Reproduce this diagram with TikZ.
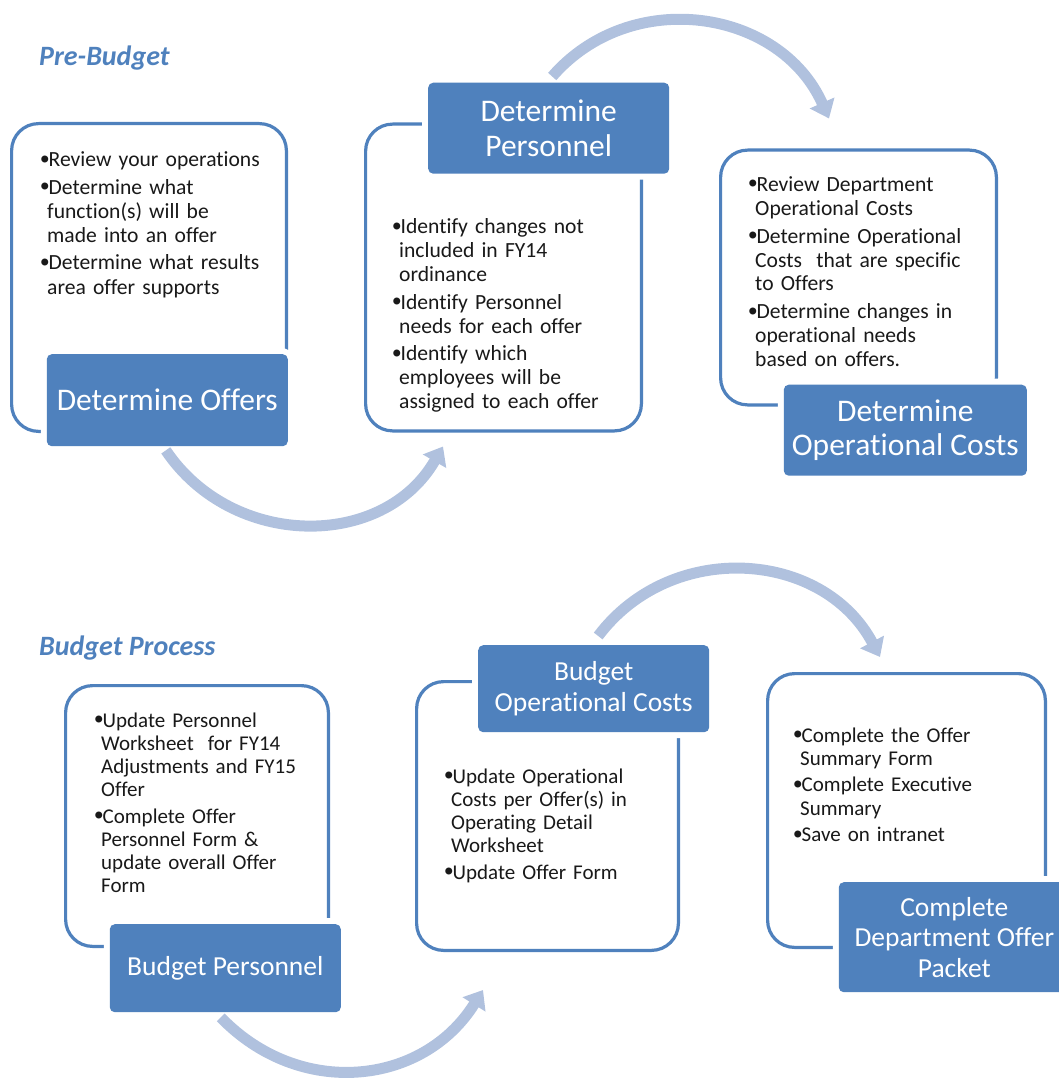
\documentclass[tikz,border=0pt]{standalone}
\usepackage{fontspec}
\setmainfont{Carlito}[Ligatures=NoCommon]
\usetikzlibrary{arrows.meta,positioning}
\definecolor{hdrblue}{RGB}{79,129,189}
\definecolor{arwblue}{RGB}{176,193,222}
\definecolor{txtblack}{RGB}{25,25,25}
\tikzstyle{box} = [draw=hdrblue, line width=3.2pt, rounded corners=27pt, fill=white]
\tikzstyle{hdr} = [fill=hdrblue, text=white, rounded corners=5pt, align=center, preaction={draw=white, line width=12pt}]
\tikzstyle{hdrbig} = [hdr, font=\fontsize{31.5}{34.5}\selectfont]
\tikzstyle{hdrsmall} = [hdr, font=\fontsize{27.5}{30.5}\selectfont]
\tikzstyle{txt} = [anchor=base west, inner sep=0pt, text width=270pt, align=left, text=txtblack, font=\fontsize{21.6}{24}\selectfont]
\tikzstyle{txtlow} = [txt, font=\fontsize{21}{23.2}\selectfont]
\tikzstyle{ttl} = [anchor=base west, inner sep=0pt, text=hdrblue, font=\fontsize{28}{32}\selectfont\bfseries\itshape]
\tikzstyle{flow} = [draw=arwblue, line width=11pt, -{Triangle[width=26pt,length=17pt]}]
\newcommand{\bul}[1]{\hangindent=6pt\hangafter=1\noindent\makebox[7.5pt][l]{\setlength{\unitlength}{1pt}\begin{picture}(0,0)\put(3.6,7.5){\circle*{6.5}}\end{picture}}#1\par\vskip3.5pt}

\begin{document}
\begin{tikzpicture}[x=1pt,y=1pt]
\useasboundingbox (0,0) rectangle (1058,-1078);

\node[box, minimum width=274.8pt, minimum height=307.8pt] (offbox) at (149,-277.5) {};
\node[box, minimum width=275.8pt, minimum height=306.8pt, right=76pt of offbox] (perbox) {};
\node[box, minimum width=275.8pt, minimum height=254.8pt, right=76pt of perbox] (opcbox) {};
\node[box, minimum width=262.8pt, minimum height=260.8pt] (bpbox) at (197,-816) {};
\node[box, minimum width=261.8pt, minimum height=268.8pt, right=85pt of bpbox] (bocbox) {};
\node[box, minimum width=277.8pt, minimum height=273.8pt, right=86pt of bocbox, yshift=5.5pt] (pkbox) {};

\node[hdrbig, minimum width=241pt, minimum height=92pt, anchor=north east] (offhd) at ([yshift=79pt]offbox.south east) {Determine Offers};
\node[hdrbig, minimum width=241pt, minimum height=91pt, anchor=north west] (perhd) at ([shift={(64,40)}]perbox.north west) {Determine\\Personnel};
\node[hdrbig, minimum width=243pt, minimum height=91pt, anchor=north east] (opchd) at ([shift={(29,22)}]opcbox.south east) {Determine\\Operational Costs};
\node[hdrsmall, minimum width=231pt, minimum height=88pt, anchor=north east] (bphd) at ([shift={(11,24)}]bpbox.south east) {Budget Personnel};
\node[hdrsmall, minimum width=231pt, minimum height=87pt, anchor=north west] (bochd) at ([shift={(63,35)}]bocbox.north west) {Budget\\Operational Costs};
\node[hdrsmall, minimum width=231pt, minimum height=110pt, anchor=north east] (pkhd) at ([shift={(23,67)}]pkbox.south east) {Complete\\Department Offer\\Packet};

\node[txt] (offtx) at ([shift={(31,-45)}]offbox.north west) {%
\bul{Review your operations}
\bul{Determine what\newline function(s) will be\newline made into an offer}
\bul{Determine what results\newline area offer supports}};
\node[txt] (pertx) at ([shift={(29,-111)}]perbox.north west) {%
\bul{Identify changes not\newline included in FY14\newline ordinance}
\bul{Identify Personnel\newline needs for each offer}
\bul{Identify which\newline employees will be\newline assigned to each offer}};
\node[txt] (opctx) at ([shift={(30,-43)}]opcbox.north west) {%
\bul{Review Department\newline Operational Costs}
\bul{Determine Operational\newline Costs\ \ that are specific\newline to Offers}
\bul{Determine changes in\newline operational needs\newline based on offers.}};
\node[txtlow] (bptx) at ([shift={(31,-43)}]bpbox.north west) {%
\bul{Update Personnel\newline Worksheet\ \ for FY14\newline Adjustments and FY15\newline Offer}
\bul{Complete Offer\newline Personnel Form \&\newline update overall Offer\newline Form}};
\node[txtlow] (boctx) at ([shift={(30,-103)}]bocbox.north west) {%
\bul{Update Operational\newline Costs per Offer(s) in\newline Operating Detail\newline Worksheet}
\bul{Update Offer Form}};
\node[txtlow] (pktx) at ([shift={(28,-70)}]pkbox.north west) {%
\bul{Complete the Offer\newline Summary Form}
\bul{Complete Executive\newline Summary}
\bul{Save on intranet}};

\node[ttl] (pretl) at (39,-66) {Pre-Budget};
\node[ttl] (budtl) at (39,-655) {Budget Process};

\draw[flow] ([shift={(-1.5,-4)}]offhd.south) to[out=-56,in=240,looseness=1.1] ([shift={(-60.5,-14)}]perbox.south);
\draw[flow] ([shift={(3.5,6)}]perhd.north) to[out=49,in=114,looseness=1.1] ([shift={(-29.5,30)}]opcbox.north);
\draw[flow] ([shift={(-4.5,-5)}]bphd.south) to[out=-46,in=238,looseness=1.1] ([shift={(-64.5,-38)}]bocbox.south);
\draw[flow] ([shift={(4.5,9)}]bochd.north) to[out=53,in=118,looseness=1.1] ([shift={(-26.5,15)}]pkbox.north);
\end{tikzpicture}
\end{document}
